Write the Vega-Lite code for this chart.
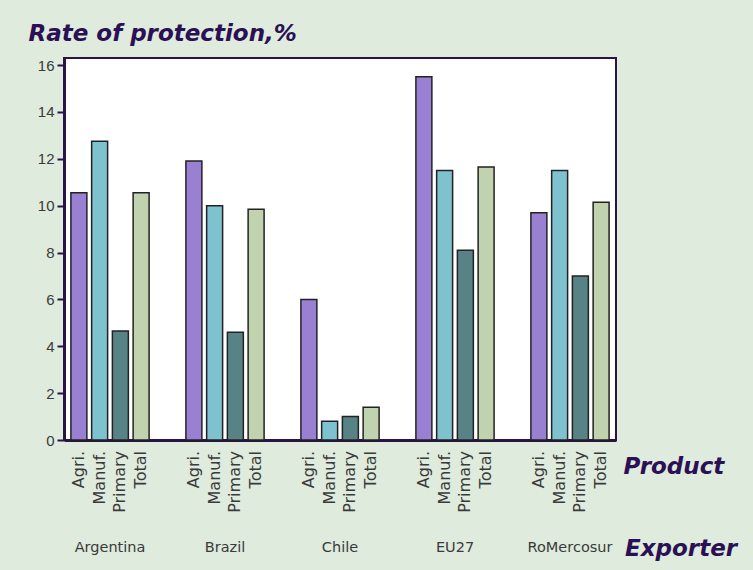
{
  "$schema": "https://vega.github.io/schema/vega-lite/v6.json",
  "width": 552,
  "height": 382,
  "autosize": {"type": "none"},
  "padding": {"left": 64, "top": 58, "right": 137, "bottom": 130},
  "background": "#DEEBDD",
  "config": {
    "view": {"fill": "white", "stroke": "#2A1446", "strokeWidth": 2}
  },
  "title": {
    "text": "Exporter",
    "orient": "bottom",
    "anchor": "end",
    "align": "left",
    "frame": "group",
    "dx": 9,
    "dy": -20,
    "font": "DejaVu Sans",
    "fontSize": 23,
    "fontWeight": "bold",
    "fontStyle": "italic",
    "color": "#2B1055"
  },
  "data": {
    "values": [
      {"Exporter": "Argentina", "Product": "Agri.", "Rate": 10.55},
      {"Exporter": "Argentina", "Product": "Manuf.", "Rate": 12.75},
      {"Exporter": "Argentina", "Product": "Primary", "Rate": 4.65},
      {"Exporter": "Argentina", "Product": "Total", "Rate": 10.55},
      {"Exporter": "Brazil", "Product": "Agri.", "Rate": 11.9},
      {"Exporter": "Brazil", "Product": "Manuf.", "Rate": 10.0},
      {"Exporter": "Brazil", "Product": "Primary", "Rate": 4.6},
      {"Exporter": "Brazil", "Product": "Total", "Rate": 9.85},
      {"Exporter": "Chile", "Product": "Agri.", "Rate": 6.0},
      {"Exporter": "Chile", "Product": "Manuf.", "Rate": 0.8},
      {"Exporter": "Chile", "Product": "Primary", "Rate": 1.0},
      {"Exporter": "Chile", "Product": "Total", "Rate": 1.4},
      {"Exporter": "EU27", "Product": "Agri.", "Rate": 15.5},
      {"Exporter": "EU27", "Product": "Manuf.", "Rate": 11.5},
      {"Exporter": "EU27", "Product": "Primary", "Rate": 8.1},
      {"Exporter": "EU27", "Product": "Total", "Rate": 11.65},
      {"Exporter": "RoMercosur", "Product": "Agri.", "Rate": 9.7},
      {"Exporter": "RoMercosur", "Product": "Manuf.", "Rate": 11.5},
      {"Exporter": "RoMercosur", "Product": "Primary", "Rate": 7.0},
      {"Exporter": "RoMercosur", "Product": "Total", "Rate": 10.15}
    ]
  },
  "encoding": {
    "x": {
      "field": "Exporter",
      "type": "nominal",
      "sort": null,
      "scale": {"paddingInner": 0.32, "paddingOuter": 0.06},
      "axis": {
        "title": "Product",
        "titleX": 559,
        "titleY": 26,
        "titleAlign": "left",
        "titleBaseline": "middle",
        "titleFont": "DejaVu Sans",
        "titleFontSize": 23,
        "titleFontWeight": "bold",
        "titleFontStyle": "italic",
        "titleColor": "#2B1055",
        "labelAngle": 0,
        "labelPadding": 100,
        "labelFont": "DejaVu Sans",
        "labelFontSize": 14.5,
        "labelColor": "#3a3a3a",
        "ticks": false,
        "domainColor": "#2A1446",
        "domainWidth": 3
      }
    },
    "xOffset": {
      "field": "Product",
      "type": "nominal",
      "sort": null,
      "scale": {"paddingInner": 0.23, "paddingOuter": 0}
    }
  },
  "layer": [
    {
      "mark": {"type": "bar", "stroke": "#222222", "strokeWidth": 1.5},
      "encoding": {
        "y": {
          "field": "Rate",
          "type": "quantitative",
          "scale": {"domain": [0, 16.3], "nice": false},
          "axis": {
            "title": "Rate of protection,%",
            "titleAngle": 0,
            "titleAlign": "left",
            "titleBaseline": "alphabetic",
            "titleX": -36,
            "titleY": -18,
            "titleFont": "DejaVu Sans",
            "titleFontSize": 23,
            "titleFontWeight": "bold",
            "titleFontStyle": "italic",
            "titleColor": "#2B1055",
            "values": [0, 2, 4, 6, 8, 10, 12, 14, 16],
            "grid": false,
            "labelFont": "Liberation Sans",
            "labelFontSize": 15,
            "labelColor": "#3a3a3a",
            "labelPadding": 3,
            "tickSize": 7,
            "tickWidth": 2,
            "tickColor": "#2A1446",
            "domainColor": "#2A1446",
            "domainWidth": 3
          }
        },
        "color": {
          "field": "Product",
          "type": "nominal",
          "sort": null,
          "legend": null,
          "scale": {
            "domain": ["Agri.", "Manuf.", "Primary", "Total"],
            "range": ["#9A80D2", "#7EC2CF", "#588386", "#C0D3AE"]
          }
        }
      }
    },
    {
      "mark": {
        "type": "text",
        "angle": 270,
        "align": "right",
        "baseline": "middle",
        "dx": -11,
        "font": "DejaVu Sans",
        "fontSize": 16,
        "color": "#3a3a3a"
      },
      "encoding": {
        "y": {"datum": 0, "type": "quantitative"},
        "text": {"field": "Product"}
      }
    }
  ]
}
